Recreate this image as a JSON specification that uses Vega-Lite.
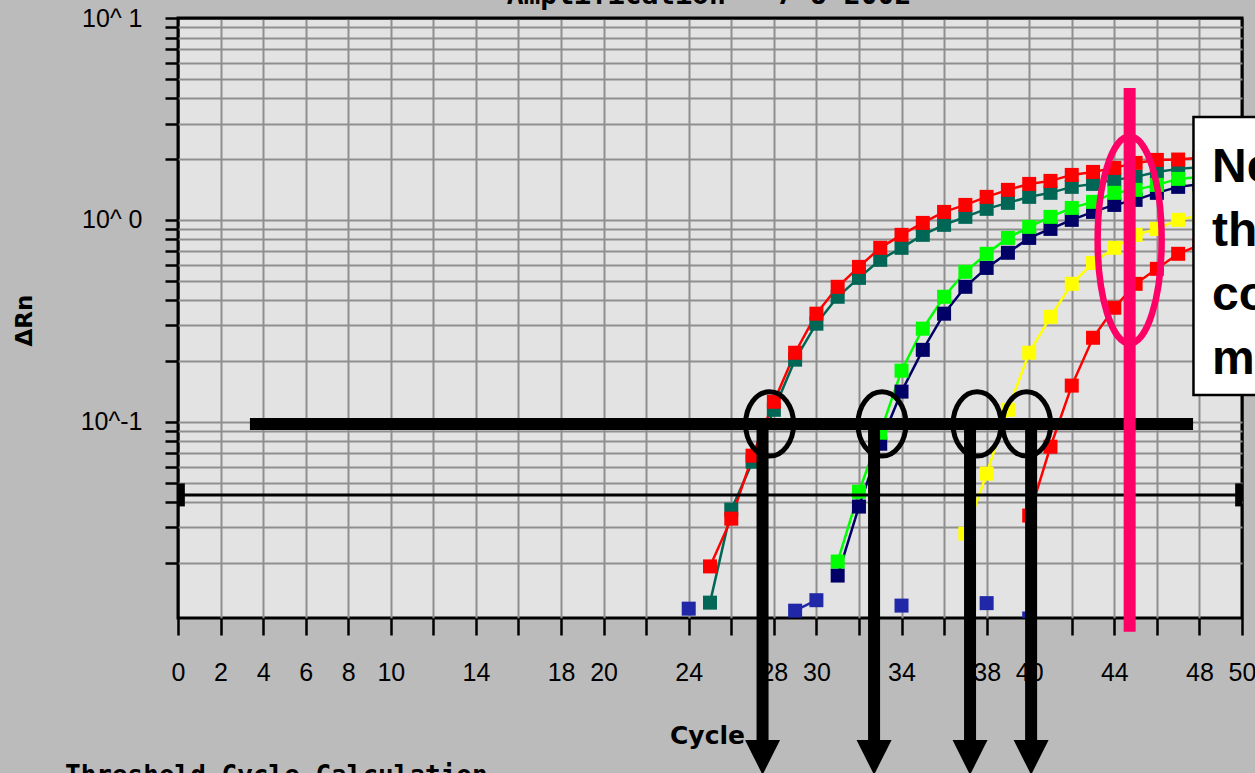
{
  "$schema": "https://vega.github.io/schema/vega-lite/v6.json",
  "width": 1064,
  "height": 600,
  "autosize": {"type": "none"},
  "padding": {"left": 178, "top": 18, "right": 13, "bottom": 155},
  "background": "#bbbbbb",
  "config": {
    "view": {"fill": "#e3e3e3", "stroke": "#000000", "strokeWidth": 3},
    "axis": {"domain": false, "gridOpacity": 1, "gridWidth": 2, "tickColor": "#000000", "tickWidth": 2.5, "labelColor": "#000000", "labelFont": "Liberation Sans", "labelFontSize": 25, "labelFontWeight": "normal", "titleColor": "#000000", "labelOverlap": false, "labelFlush": false, "labelBound": false}
  },
  "datasets": {
    "amp": [
      {"well": "Sample B", "trace": "Sample B", "cycle": 25, "drn": 0.0127},
      {"well": "Sample B", "trace": "Sample B", "cycle": 26, "drn": 0.0367},
      {"well": "Sample B", "trace": "Sample B", "cycle": 27, "drn": 0.0634},
      {"well": "Sample B", "trace": "Sample B", "cycle": 28, "drn": 0.1146},
      {"well": "Sample B", "trace": "Sample B", "cycle": 29, "drn": 0.203},
      {"well": "Sample B", "trace": "Sample B", "cycle": 30, "drn": 0.306},
      {"well": "Sample B", "trace": "Sample B", "cycle": 31, "drn": 0.416},
      {"well": "Sample B", "trace": "Sample B", "cycle": 32, "drn": 0.516},
      {"well": "Sample B", "trace": "Sample B", "cycle": 33, "drn": 0.634},
      {"well": "Sample B", "trace": "Sample B", "cycle": 34, "drn": 0.727},
      {"well": "Sample B", "trace": "Sample B", "cycle": 35, "drn": 0.843},
      {"well": "Sample B", "trace": "Sample B", "cycle": 36, "drn": 0.945},
      {"well": "Sample B", "trace": "Sample B", "cycle": 37, "drn": 1.035},
      {"well": "Sample B", "trace": "Sample B", "cycle": 38, "drn": 1.134},
      {"well": "Sample B", "trace": "Sample B", "cycle": 39, "drn": 1.214},
      {"well": "Sample B", "trace": "Sample B", "cycle": 40, "drn": 1.3},
      {"well": "Sample B", "trace": "Sample B", "cycle": 41, "drn": 1.361},
      {"well": "Sample B", "trace": "Sample B", "cycle": 42, "drn": 1.457},
      {"well": "Sample B", "trace": "Sample B", "cycle": 43, "drn": 1.507},
      {"well": "Sample B", "trace": "Sample B", "cycle": 44, "drn": 1.578},
      {"well": "Sample B", "trace": "Sample B", "cycle": 45, "drn": 1.633},
      {"well": "Sample B", "trace": "Sample B", "cycle": 46, "drn": 1.728},
      {"well": "Sample B", "trace": "Sample B", "cycle": 47, "drn": 1.789},
      {"well": "Sample B", "trace": "Sample B", "cycle": 48, "drn": 1.82},
      {"well": "Sample B", "trace": "Sample B", "cycle": 49, "drn": 1.85},
      {"well": "Sample B", "trace": "Sample B", "cycle": 50, "drn": 1.88},
      {"well": "Sample A", "trace": "Sample A", "cycle": 25, "drn": 0.0192},
      {"well": "Sample A", "trace": "Sample A", "cycle": 26, "drn": 0.0331},
      {"well": "Sample A", "trace": "Sample A", "cycle": 27, "drn": 0.0679},
      {"well": "Sample A", "trace": "Sample A", "cycle": 28, "drn": 0.1256},
      {"well": "Sample A", "trace": "Sample A", "cycle": 29, "drn": 0.2197},
      {"well": "Sample A", "trace": "Sample A", "cycle": 30, "drn": 0.343},
      {"well": "Sample A", "trace": "Sample A", "cycle": 31, "drn": 0.466},
      {"well": "Sample A", "trace": "Sample A", "cycle": 32, "drn": 0.585},
      {"well": "Sample A", "trace": "Sample A", "cycle": 33, "drn": 0.727},
      {"well": "Sample A", "trace": "Sample A", "cycle": 34, "drn": 0.843},
      {"well": "Sample A", "trace": "Sample A", "cycle": 35, "drn": 0.966},
      {"well": "Sample A", "trace": "Sample A", "cycle": 36, "drn": 1.095},
      {"well": "Sample A", "trace": "Sample A", "cycle": 37, "drn": 1.186},
      {"well": "Sample A", "trace": "Sample A", "cycle": 38, "drn": 1.3},
      {"well": "Sample A", "trace": "Sample A", "cycle": 39, "drn": 1.408},
      {"well": "Sample A", "trace": "Sample A", "cycle": 40, "drn": 1.507},
      {"well": "Sample A", "trace": "Sample A", "cycle": 41, "drn": 1.56},
      {"well": "Sample A", "trace": "Sample A", "cycle": 42, "drn": 1.67},
      {"well": "Sample A", "trace": "Sample A", "cycle": 43, "drn": 1.728},
      {"well": "Sample A", "trace": "Sample A", "cycle": 44, "drn": 1.809},
      {"well": "Sample A", "trace": "Sample A", "cycle": 45, "drn": 1.915},
      {"well": "Sample A", "trace": "Sample A", "cycle": 46, "drn": 1.982},
      {"well": "Sample A", "trace": "Sample A", "cycle": 47, "drn": 1.99},
      {"well": "Sample A", "trace": "Sample A", "cycle": 48, "drn": 2.03},
      {"well": "Sample A", "trace": "Sample A", "cycle": 49, "drn": 2.06},
      {"well": "Sample A", "trace": "Sample A", "cycle": 50, "drn": 2.09},
      {"well": "Sample D", "trace": "Sample D", "cycle": 31, "drn": 0.0173},
      {"well": "Sample D", "trace": "Sample D", "cycle": 32, "drn": 0.038},
      {"well": "Sample D", "trace": "Sample D", "cycle": 33, "drn": 0.0778},
      {"well": "Sample D", "trace": "Sample D", "cycle": 34, "drn": 0.141},
      {"well": "Sample D", "trace": "Sample D", "cycle": 35, "drn": 0.227},
      {"well": "Sample D", "trace": "Sample D", "cycle": 36, "drn": 0.343},
      {"well": "Sample D", "trace": "Sample D", "cycle": 37, "drn": 0.466},
      {"well": "Sample D", "trace": "Sample D", "cycle": 38, "drn": 0.578},
      {"well": "Sample D", "trace": "Sample D", "cycle": 39, "drn": 0.687},
      {"well": "Sample D", "trace": "Sample D", "cycle": 40, "drn": 0.814},
      {"well": "Sample D", "trace": "Sample D", "cycle": 41, "drn": 0.902},
      {"well": "Sample D", "trace": "Sample D", "cycle": 42, "drn": 1.0},
      {"well": "Sample D", "trace": "Sample D", "cycle": 43, "drn": 1.095},
      {"well": "Sample D", "trace": "Sample D", "cycle": 44, "drn": 1.186},
      {"well": "Sample D", "trace": "Sample D", "cycle": 45, "drn": 1.256},
      {"well": "Sample D", "trace": "Sample D", "cycle": 46, "drn": 1.361},
      {"well": "Sample D", "trace": "Sample D", "cycle": 47, "drn": 1.457},
      {"well": "Sample D", "trace": "Sample D", "cycle": 48, "drn": 1.5},
      {"well": "Sample D", "trace": "Sample D", "cycle": 49, "drn": 1.55},
      {"well": "Sample D", "trace": "Sample D", "cycle": 50, "drn": 1.6},
      {"well": "Sample C", "trace": "Sample C", "cycle": 31, "drn": 0.0203},
      {"well": "Sample C", "trace": "Sample C", "cycle": 32, "drn": 0.045},
      {"well": "Sample C", "trace": "Sample C", "cycle": 33, "drn": 0.0882},
      {"well": "Sample C", "trace": "Sample C", "cycle": 34, "drn": 0.179},
      {"well": "Sample C", "trace": "Sample C", "cycle": 35, "drn": 0.289},
      {"well": "Sample C", "trace": "Sample C", "cycle": 36, "drn": 0.416},
      {"well": "Sample C", "trace": "Sample C", "cycle": 37, "drn": 0.553},
      {"well": "Sample C", "trace": "Sample C", "cycle": 38, "drn": 0.679},
      {"well": "Sample C", "trace": "Sample C", "cycle": 39, "drn": 0.814},
      {"well": "Sample C", "trace": "Sample C", "cycle": 40, "drn": 0.923},
      {"well": "Sample C", "trace": "Sample C", "cycle": 41, "drn": 1.035},
      {"well": "Sample C", "trace": "Sample C", "cycle": 42, "drn": 1.146},
      {"well": "Sample C", "trace": "Sample C", "cycle": 43, "drn": 1.228},
      {"well": "Sample C", "trace": "Sample C", "cycle": 44, "drn": 1.361},
      {"well": "Sample C", "trace": "Sample C", "cycle": 45, "drn": 1.408},
      {"well": "Sample C", "trace": "Sample C", "cycle": 46, "drn": 1.49},
      {"well": "Sample C", "trace": "Sample C", "cycle": 47, "drn": 1.596},
      {"well": "Sample C", "trace": "Sample C", "cycle": 48, "drn": 1.63},
      {"well": "Sample C", "trace": "Sample C", "cycle": 49, "drn": 1.66},
      {"well": "Sample C", "trace": "Sample C", "cycle": 50, "drn": 1.7},
      {"well": "Sample E", "trace": "Sample E", "cycle": 37, "drn": 0.0279},
      {"well": "Sample E", "trace": "Sample E", "cycle": 38, "drn": 0.0553},
      {"well": "Sample E", "trace": "Sample E", "cycle": 39, "drn": 0.1146},
      {"well": "Sample E", "trace": "Sample E", "cycle": 40, "drn": 0.2197},
      {"well": "Sample E", "trace": "Sample E", "cycle": 41, "drn": 0.331},
      {"well": "Sample E", "trace": "Sample E", "cycle": 42, "drn": 0.482},
      {"well": "Sample E", "trace": "Sample E", "cycle": 43, "drn": 0.612},
      {"well": "Sample E", "trace": "Sample E", "cycle": 44, "drn": 0.727},
      {"well": "Sample E", "trace": "Sample E", "cycle": 45, "drn": 0.843},
      {"well": "Sample E", "trace": "Sample E", "cycle": 46, "drn": 0.902},
      {"well": "Sample E", "trace": "Sample E", "cycle": 47, "drn": 1.0},
      {"well": "Sample E", "trace": "Sample E", "cycle": 48, "drn": 1.05},
      {"well": "Sample E", "trace": "Sample E", "cycle": 49, "drn": 1.1},
      {"well": "Sample E", "trace": "Sample E", "cycle": 50, "drn": 1.15},
      {"well": "Sample F", "trace": "Sample F", "cycle": 40, "drn": 0.0343},
      {"well": "Sample F", "trace": "Sample F", "cycle": 41, "drn": 0.0752},
      {"well": "Sample F", "trace": "Sample F", "cycle": 42, "drn": 0.151},
      {"well": "Sample F", "trace": "Sample F", "cycle": 43, "drn": 0.2606},
      {"well": "Sample F", "trace": "Sample F", "cycle": 44, "drn": 0.367},
      {"well": "Sample F", "trace": "Sample F", "cycle": 45, "drn": 0.482},
      {"well": "Sample F", "trace": "Sample F", "cycle": 46, "drn": 0.572},
      {"well": "Sample F", "trace": "Sample F", "cycle": 47, "drn": 0.679},
      {"well": "Sample F", "trace": "Sample F", "cycle": 48, "drn": 0.75},
      {"well": "Sample F", "trace": "Sample F", "cycle": 49, "drn": 0.8},
      {"well": "Sample F", "trace": "Sample F", "cycle": 50, "drn": 0.85},
      {"well": "NTC", "trace": "NTC 1", "cycle": 24, "drn": 0.01186},
      {"well": "NTC", "trace": "NTC 2", "cycle": 29, "drn": 0.01159},
      {"well": "NTC", "trace": "NTC 2", "cycle": 30, "drn": 0.01306},
      {"well": "NTC", "trace": "NTC 3", "cycle": 34, "drn": 0.01228},
      {"well": "NTC", "trace": "NTC 4", "cycle": 38, "drn": 0.01263},
      {"well": "NTC", "trace": "NTC 5", "cycle": 40, "drn": 0.0106}
    ],
    "crossings": [
      {"ct": 27.8}, {"ct": 33.08}, {"ct": 37.55}, {"ct": 39.88}
    ],
    "ctArrows": [
      {"ct": 27.47}, {"ct": 32.71}, {"ct": 37.22}, {"ct": 40.09}
    ]
  },
  "layer": [
    {
      "data": {"name": "amp"},
      "mark": {"type": "line", "strokeWidth": 2.5, "clip": true},
      "encoding": {
        "x": {
          "field": "cycle", "type": "quantitative",
          "scale": {"domain": [0, 50], "nice": false, "zero": false},
          "axis": {
            "title": "Cycle",
            "values": [0,2,4,6,8,10,12,14,16,18,20,22,24,26,28,30,32,34,36,38,40,42,44,46,48,50],
            "labelExpr": "indexof([12,16,22,26,32,36,42,46], datum.value) >= 0 ? '' : datum.label",
            "tickSize": 17, "labelPadding": 25, "labelAngle": 0, "labelAlign": "center",
            "grid": true,
            "gridColor": {"condition": {"test": "datum.value === 0 || datum.value === 50", "value": "#000000"}, "value": "#8f8f8f"},
            "titleFont": "DejaVu Sans", "titleFontWeight": "bold", "titleFontSize": 25,
            "titleX": 529, "titleY": 125, "titleAlign": "center", "titleBaseline": "alphabetic"
          }
        },
        "y": {
          "field": "drn", "type": "quantitative",
          "scale": {"type": "log", "domain": [0.01066, 10], "nice": false},
          "axis": {
            "title": "ΔRn",
            "values": [0.02,0.03,0.04,0.05,0.06,0.07,0.08,0.09,0.1,0.2,0.3,0.4,0.5,0.6,0.7,0.8,0.9,1,2,3,4,5,6,7,8,9,10],
            "labelExpr": "datum.value == 10 ? '10^ 1' : datum.value == 1 ? '10^ 0' : datum.value == 0.1 ? '10^-1' : ''",
            "tickSize": 13, "labelPadding": 23, "labelBaseline": "middle",
            "grid": true,
            "gridColor": {"condition": {"test": "datum.value === 10", "value": "#000000"}, "value": "#8f8f8f"},
            "titleFont": "DejaVu Sans", "titleFontWeight": "bold", "titleFontSize": 23,
            "titleAngle": -90, "titleX": -154, "titleY": 302, "titleAlign": "center", "titleBaseline": "middle"
          }
        },
        "color": {
          "field": "well", "type": "nominal", "legend": null,
          "scale": {
            "domain": ["Sample A", "Sample B", "Sample C", "Sample D", "Sample E", "Sample F", "NTC"],
            "range": ["#ff0000", "#006655", "#00ff00", "#000066", "#ffff00", "#ff0000", "#2028a8"]
          }
        },
        "detail": {"field": "trace", "type": "nominal"}
      }
    },
    {
      "data": {"name": "amp"},
      "mark": {"type": "point", "shape": "square", "filled": true, "size": 196, "opacity": 1, "strokeWidth": 0, "clip": true},
      "encoding": {
        "x": {"field": "cycle", "type": "quantitative"},
        "y": {"field": "drn", "type": "quantitative"},
        "color": {"field": "well", "type": "nominal", "legend": null}
      }
    },
    {
      "data": {"values": [{}]},
      "mark": {"type": "rule", "color": "#000000", "strokeWidth": 3, "clip": false},
      "encoding": {
        "x": {"datum": 0, "type": "quantitative"},
        "x2": {"datum": 50},
        "y": {"datum": 0.0434, "type": "quantitative"}
      }
    },
    {
      "data": {"values": [{}]},
      "mark": {"type": "point", "shape": "M-0.3,-1L0.3,-1L0.3,1L-0.3,1Z", "size": 529, "filled": true, "opacity": 1, "color": "#000000", "strokeWidth": 0, "clip": false},
      "encoding": {
        "x": {"datum": 0.16, "type": "quantitative"},
        "y": {"datum": 0.0434, "type": "quantitative"}
      }
    },
    {
      "data": {"values": [{}]},
      "mark": {"type": "point", "shape": "M-0.3,-1L0.3,-1L0.3,1L-0.3,1Z", "size": 529, "filled": true, "opacity": 1, "color": "#000000", "strokeWidth": 0, "clip": false},
      "encoding": {
        "x": {"datum": 49.84, "type": "quantitative"},
        "y": {"datum": 0.0434, "type": "quantitative"}
      }
    },
    {
      "data": {"values": [{}]},
      "mark": {"type": "rule", "color": "#000000", "strokeWidth": 12, "clip": false},
      "encoding": {
        "x": {"datum": 3.38, "type": "quantitative"},
        "x2": {"datum": 47.7},
        "y": {"datum": 0.0975, "type": "quantitative"}
      }
    },
    {
      "data": {"name": "crossings"},
      "mark": {"type": "point", "shape": "M-1,0C-1,-0.74,-0.5523,-1.34,0,-1.34C0.5523,-1.34,1,-0.74,1,0C1,0.74,0.5523,1.34,0,1.34C-0.5523,1.34,-1,0.74,-1,0Z", "size": 2304, "filled": false, "stroke": "#000000", "strokeWidth": 5, "opacity": 1, "clip": false},
      "encoding": {
        "x": {"field": "ct", "type": "quantitative"},
        "y": {"datum": 0.0975, "type": "quantitative"}
      }
    },
    {
      "data": {"name": "ctArrows"},
      "mark": {"type": "rule", "color": "#000000", "strokeWidth": 12, "clip": false},
      "encoding": {
        "x": {"field": "ct", "type": "quantitative"},
        "y": {"datum": 0.0975, "type": "quantitative"},
        "y2": {"datum": 0.002594}
      }
    },
    {
      "data": {"name": "ctArrows"},
      "mark": {"type": "point", "shape": "M-1,-1L1,-1L0,1Z", "size": 1225, "filled": true, "color": "#000000", "opacity": 1, "strokeWidth": 0, "clip": false},
      "encoding": {
        "x": {"field": "ct", "type": "quantitative"},
        "y": {"datum": 0.002174, "type": "quantitative"}
      }
    },
    {
      "data": {"values": [{}]},
      "mark": {"type": "rule", "color": "#ff0066", "strokeWidth": 12, "clip": false},
      "encoding": {
        "x": {"datum": 44.72, "type": "quantitative"},
        "y": {"datum": 4.5, "type": "quantitative"},
        "y2": {"datum": 0.0091}
      }
    },
    {
      "data": {"values": [{}]},
      "mark": {"type": "point", "shape": "M-1,0C-1,-1.784,-0.5523,-3.23,0,-3.23C0.5523,-3.23,1,-1.784,1,0C1,1.784,0.5523,3.23,0,3.23C-0.5523,3.23,-1,1.784,-1,0Z", "size": 4096, "filled": false, "stroke": "#ff0066", "strokeWidth": 6.5, "opacity": 1, "clip": false},
      "encoding": {
        "x": {"datum": 44.72, "type": "quantitative"},
        "y": {"datum": 0.795, "type": "quantitative"}
      }
    },
    {
      "data": {"values": [{}]},
      "mark": {"type": "rect", "fill": "#ffffff", "stroke": "#000000", "strokeWidth": 2.5, "clip": false},
      "encoding": {
        "x": {"datum": 47.72, "type": "quantitative"},
        "x2": {"datum": 53},
        "y": {"datum": 3.233, "type": "quantitative"},
        "y2": {"datum": 0.1357}
      }
    },
    {
      "data": {"values": [{}]},
      "mark": {"type": "text", "font": "Liberation Sans", "fontWeight": "bold", "fontSize": 48, "color": "#000000", "align": "left", "baseline": "alphabetic", "lineHeight": 64, "clip": false},
      "encoding": {
        "x": {"datum": 48.59, "type": "quantitative"},
        "y": {"datum": 1.541, "type": "quantitative"},
        "text": {"value": ["Near the plateau", "the curves", "converge and", "mask differences"]}
      }
    },
    {
      "data": {"values": [{}]},
      "mark": {"type": "text", "font": "DejaVu Sans Mono", "fontWeight": "bold", "fontSize": 26, "color": "#000000", "align": "left", "baseline": "alphabetic", "clip": false},
      "encoding": {
        "x": {"datum": -5.31, "type": "quantitative"},
        "y": {"datum": 0.001607, "type": "quantitative"},
        "text": {"value": "Threshold Cycle Calculation"}
      }
    },
    {
      "data": {"values": [{}]},
      "mark": {"type": "text", "font": "DejaVu Sans Mono", "fontWeight": "bold", "fontSize": 28, "color": "#000000", "align": "center", "baseline": "alphabetic", "clip": false},
      "encoding": {
        "x": {"datum": 24.95, "type": "quantitative"},
        "y": {"datum": 11.73, "type": "quantitative"},
        "text": {"value": "Amplification - 7-8-2002"}
      }
    }
  ]
}
